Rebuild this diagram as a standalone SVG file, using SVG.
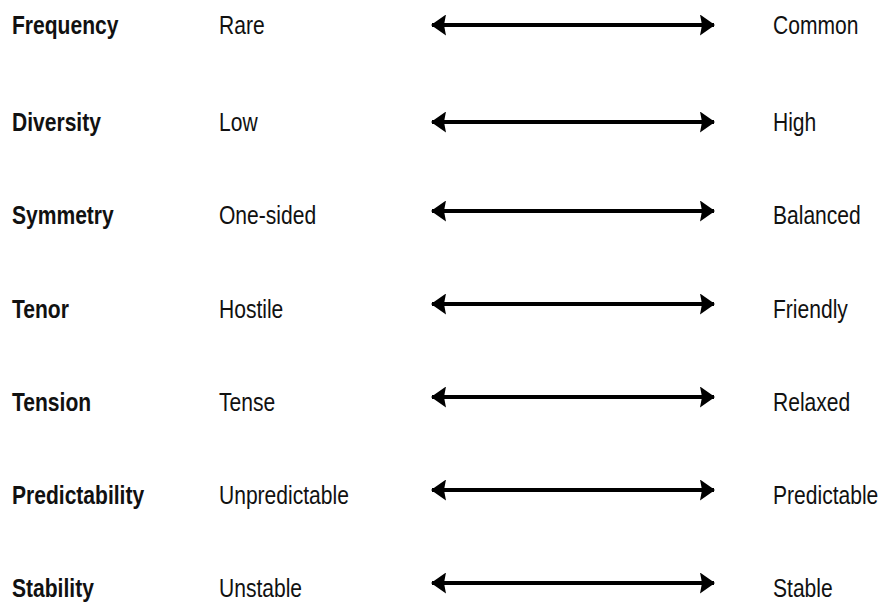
<svg xmlns="http://www.w3.org/2000/svg" width="880" height="608" viewBox="0 0 880 608">
<defs>
<style>
text{font-family:"Liberation Sans",Arial,sans-serif;font-size:26px;fill:#111}
.b{font-weight:bold}
.ln{stroke:#000;stroke-width:4;fill:none}
</style>
<marker id="ah" viewBox="0 0 15 21" refX="14" refY="10.5" markerWidth="15" markerHeight="21" markerUnits="userSpaceOnUse" orient="auto-start-reverse">
<path d="M0,0 L15,10.5 L0,21 L2,10.5 Z" fill="#000"/>
</marker>
</defs>
<rect width="880" height="608" fill="#fff"/>
<g id="connectors">
<line class="ln" x1="432" y1="25" x2="714" y2="25" marker-start="url(#ah)" marker-end="url(#ah)"/>
<line class="ln" x1="432" y1="122" x2="714" y2="122" marker-start="url(#ah)" marker-end="url(#ah)"/>
<line class="ln" x1="432" y1="211" x2="714" y2="211" marker-start="url(#ah)" marker-end="url(#ah)"/>
<line class="ln" x1="432" y1="304" x2="714" y2="304" marker-start="url(#ah)" marker-end="url(#ah)"/>
<line class="ln" x1="432" y1="397" x2="714" y2="397" marker-start="url(#ah)" marker-end="url(#ah)"/>
<line class="ln" x1="432" y1="490" x2="714" y2="490" marker-start="url(#ah)" marker-end="url(#ah)"/>
<line class="ln" x1="432" y1="583" x2="714" y2="583" marker-start="url(#ah)" marker-end="url(#ah)"/>
</g>
<g id="row-frequency">
<text class="b" transform="translate(12,34) scale(0.81,1)">Frequency</text>
<text transform="translate(219,34) scale(0.81,1)">Rare</text>
<text transform="translate(773,34) scale(0.81,1)">Common</text>
</g>
<g id="row-diversity">
<text class="b" transform="translate(12,131) scale(0.81,1)">Diversity</text>
<text transform="translate(219,131) scale(0.81,1)">Low</text>
<text transform="translate(773,131) scale(0.81,1)">High</text>
</g>
<g id="row-symmetry">
<text class="b" transform="translate(12,224) scale(0.81,1)">Symmetry</text>
<text transform="translate(219,224) scale(0.81,1)">One-sided</text>
<text transform="translate(773,224) scale(0.81,1)">Balanced</text>
</g>
<g id="row-tenor">
<text class="b" transform="translate(12,318) scale(0.81,1)">Tenor</text>
<text transform="translate(219,318) scale(0.81,1)">Hostile</text>
<text transform="translate(773,318) scale(0.81,1)">Friendly</text>
</g>
<g id="row-tension">
<text class="b" transform="translate(12,411) scale(0.81,1)">Tension</text>
<text transform="translate(219,411) scale(0.81,1)">Tense</text>
<text transform="translate(773,411) scale(0.81,1)">Relaxed</text>
</g>
<g id="row-predictability">
<text class="b" transform="translate(12,504) scale(0.81,1)">Predictability</text>
<text transform="translate(219,504) scale(0.81,1)">Unpredictable</text>
<text transform="translate(773,504) scale(0.81,1)">Predictable</text>
</g>
<g id="row-stability">
<text class="b" transform="translate(12,597) scale(0.81,1)">Stability</text>
<text transform="translate(219,597) scale(0.81,1)">Unstable</text>
<text transform="translate(773,597) scale(0.81,1)">Stable</text>
</g>
</svg>
